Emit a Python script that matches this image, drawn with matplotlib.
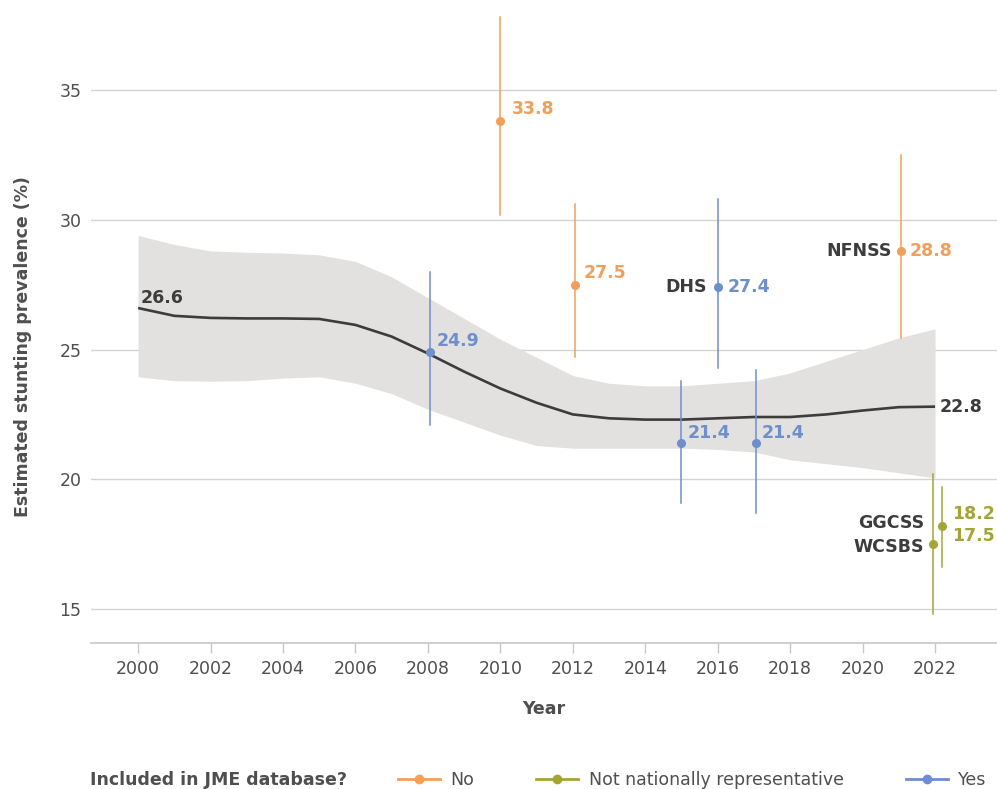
import numpy as np
import matplotlib
matplotlib.use("Agg")
import matplotlib.pyplot as plt
from matplotlib.lines import Line2D

# modelled trend with confidence band
trend_years = [2000, 2001, 2002, 2003, 2004, 2005, 2006, 2007, 2008, 2009, 2010, 2011,
               2012, 2013, 2014, 2015, 2016, 2017, 2018, 2019, 2020, 2021, 2022]
trend = [26.6, 26.3, 26.22, 26.2, 26.2, 26.18, 25.95, 25.5, 24.85, 24.15, 23.5, 22.95,
         22.5, 22.35, 22.3, 22.3, 22.35, 22.4, 22.4, 22.5, 22.65, 22.78, 22.8]
upper = [29.4, 29.05, 28.8, 28.75, 28.72, 28.65, 28.4, 27.8, 27.0, 26.2, 25.4, 24.7,
         24.0, 23.7, 23.6, 23.6, 23.7, 23.8, 24.1, 24.55, 25.0, 25.45, 25.8]
lower = [23.95, 23.8, 23.78, 23.8, 23.9, 23.95, 23.7, 23.3, 22.7, 22.2, 21.7, 21.3,
         21.2, 21.2, 21.2, 21.2, 21.15, 21.05, 20.75, 20.6, 20.45, 20.25, 20.05]

# survey estimates
survey_year = [2010.0, 2012.05, 2021.05, 2008.05, 2015.0, 2016.0, 2017.05, 2021.95, 2022.2]
survey_val = [33.8, 27.5, 28.8, 24.9, 21.4, 27.4, 21.4, 17.5, 18.2]
survey_lo = [30.2, 24.7, 25.45, 22.1, 19.1, 24.3, 18.7, 14.8, 16.6]
survey_hi = [37.8, 30.6, 32.5, 28.0, 23.8, 30.8, 24.2, 20.2, 19.7]
survey_group = ["No", "No", "No", "Yes", "Yes", "Yes", "Yes", "NNR", "NNR"]
survey_name = ["", "", "NFNSS", "", "", "DHS", "", "WCSBS", "GGCSS"]

colors = {"No": "#F0A05A", "Yes": "#6E8FCB", "NNR": "#A3A636"}
dark = "#3C3C3C"
grey_text = "#4F4F4F"

# label offsets in points
val_off = [(8, 9), (6.5, 8.6), (6.5, 0), (5, 8), (4.5, 7.5), (7, 0), (4.5, 7.5), (13.5, 5.8), (7, 8.6)]
name_off = [None, None, (-6.5, 0), None, None, (-8, 0), None, (-6.5, -2), (-13, 2)]

plt.rcParams["font.family"] = "DejaVu Sans"

fig = plt.figure(figsize=(9.97, 7.89), dpi=100)
ax = fig.add_axes([91 / 997, 1 - 643 / 789, 1 - 91 / 997, (643 - 5) / 789])

ax.fill_between(trend_years, lower, upper, color="#E2E1E0", lw=0, zorder=1)
ax.plot(trend_years, trend, color=dark, lw=1.9, zorder=3, solid_capstyle="butt")

for i in range(len(survey_val)):
    c = colors[survey_group[i]]
    ax.plot([survey_year[i], survey_year[i]], [survey_lo[i], survey_hi[i]], color=c, lw=1.1, zorder=4)
    ax.plot(survey_year[i], survey_val[i], "o", color=c, ms=5.5, zorder=5)
    dx, dy = val_off[i]
    ax.annotate(f"{survey_val[i]:.1f}", (survey_year[i], survey_val[i]), xytext=(dx, dy),
                textcoords="offset points", ha="left", va="center", fontsize=12.5,
                fontweight="bold", color=c, zorder=6)
    if survey_name[i]:
        dx, dy = name_off[i]
        ax.annotate(survey_name[i], (survey_year[i], survey_val[i]), xytext=(dx, dy),
                    textcoords="offset points", ha="right", va="center", fontsize=12.5,
                    fontweight="bold", color=dark, zorder=6)

# end labels of the trend
ax.annotate(f"{trend[0]:.1f}", (trend_years[0], trend[0]), xytext=(1.5, 7),
            textcoords="offset points", ha="left", va="center", fontsize=12.5,
            fontweight="bold", color=dark)
ax.annotate(f"{trend[-1]:.1f}", (trend_years[-1], trend[-1]), xytext=(3, 0),
            textcoords="offset points", ha="left", va="center", fontsize=12.5,
            fontweight="bold", color=dark)

ax.set_xlim(1998.7, 2023.71)
ax.set_ylim(13.69, 38.28)
ax.set_xticks(range(2000, 2023, 2))
ax.set_yticks([15, 20, 25, 30, 35])
ax.grid(axis="y", color="#D3D3D3", lw=1)
ax.set_axisbelow(True)
for s in ["left", "right", "top"]:
    ax.spines[s].set_visible(False)
ax.spines["bottom"].set_color("#C8C8C8")
ax.spines["bottom"].set_linewidth(1.2)
ax.tick_params(axis="x", length=7, width=1, color="#C8C8C8", labelsize=12.5, labelcolor=grey_text, pad=5)
ax.tick_params(axis="y", length=0, labelsize=12.5, labelcolor=grey_text, pad=7)

ax.set_xlabel("Year", fontsize=12.5, fontweight="bold", color=grey_text, labelpad=16)
ax.set_ylabel("Estimated stunting prevalence (%)", fontsize=12.5, fontweight="bold", color=grey_text)
ax.yaxis.set_label_coords(-0.065, 0.464)

handles = [Line2D([], [], color=colors[k], marker="o", ms=6, lw=2) for k in ["No", "NNR", "Yes"]]
fig.text(90 / 997, 1 - 780 / 789, "Included in JME database?", fontsize=12.5, fontweight="bold",
         color=grey_text, ha="left", va="center")
fig.legend(handles, ["No", "Not nationally representative", "Yes"], loc="center left",
           bbox_to_anchor=(398 / 997, 1 - 780 / 789), ncol=3, frameon=False, fontsize=12.5,
           labelcolor=grey_text, handlelength=2.4, handletextpad=0.6, columnspacing=3.6,
           borderaxespad=0, borderpad=0)

fig.savefig("out.png", dpi=100)
